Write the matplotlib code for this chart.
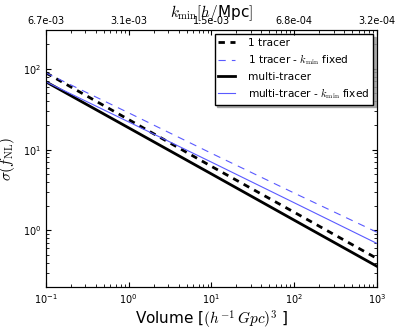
import matplotlib
matplotlib.use("Agg")
import matplotlib.pyplot as plt

plt.rcParams['mathtext.fontset'] = 'cm'
plt.rcParams['mathtext.rm'] = 'serif'

volume = [0.1, 1, 10, 100, 1000]
one_tracer = [89, 23.5, 6.2, 1.68, 0.45]
one_tracer_fixed = [89, 28.5, 9.0, 2.9, 0.95]
multi_tracer = [69, 18.6, 5.0, 1.34, 0.36]
multi_tracer_fixed = [69, 22.0, 7.0, 2.2, 0.69]
kmin_labels = ['6.7e-03', '3.1e-03', '1.5e-03', '6.8e-04', '3.2e-04']

fig = plt.figure(figsize=(3.99, 3.28), dpi=100)
ax = fig.add_axes([0.115, 0.125, 0.83, 0.783])

ax.loglog(volume, one_tracer, 'k--', lw=2, dashes=(2.3, 2.0),
          label='1 tracer')
ax.loglog(volume, one_tracer_fixed, '--', color='#5a5aff', lw=0.8,
          dashes=(6.5, 5.5), label=r'1 tracer - $k_{\rm min}$ fixed')
ax.loglog(volume, multi_tracer, 'k-', lw=2, label='multi-tracer')
ax.loglog(volume, multi_tracer_fixed, '-', color='#5a5aff', lw=0.8,
          label=r'multi-tracer - $k_{\rm min}$ fixed')

ax.set_xlim(0.1, 1000)
ax.set_ylim(0.2, 300)
ax.set_xlabel(r'Volume [$(h^{-1}\,Gpc)^3$ ]', fontsize=11, labelpad=2)
ax.set_ylabel(r'$\sigma(f_{\rm NL})$', fontsize=11, labelpad=4)
ax.tick_params(which='both', direction='in', top=False, right=True, labelsize=7)

leg = ax.legend(loc='upper right', fontsize=7.6, fancybox=False,
                shadow={'color': '0.6', 'alpha': 0.8},
                handlelength=1.6, handletextpad=1.2, borderpad=0.35,
                labelspacing=0.42, borderaxespad=0.4)
leg.get_frame().set_edgecolor('black')

ax2 = ax.twiny()
ax2.set_xscale('log')
ax2.set_xlim(ax.get_xlim())
ax2.set_xticks(volume)
ax2.set_xticklabels(kmin_labels)
ax2.tick_params(which='both', direction='in', labelsize=7, pad=3)
ax2.set_xlabel(r'$k_{\rm min} [h/$Mpc$]$', fontsize=11, labelpad=-1)

fig.savefig('out.png', dpi=100)
